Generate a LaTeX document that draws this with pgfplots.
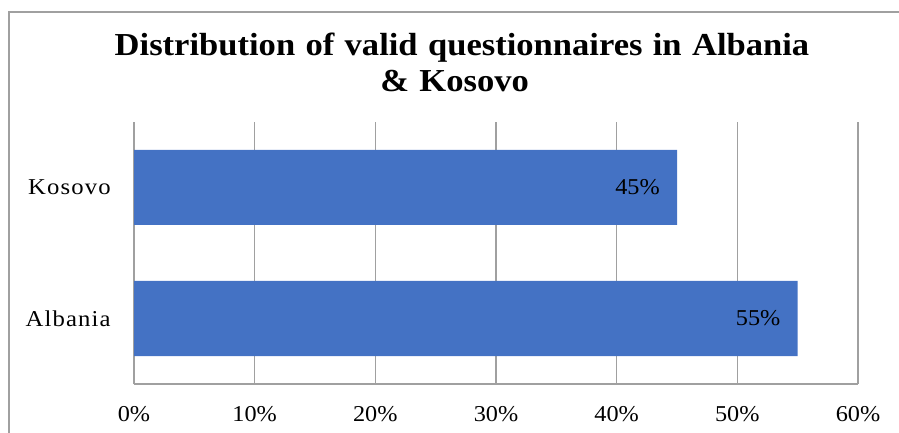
\documentclass[border=0pt]{standalone}
\usepackage{pgfplots}
\pgfplotsset{compat=1.18}
\usepackage{fontspec}
\setmainfont{Liberation Serif}[FakeStretch=1.07]
\newfontfamily\ylabfont{Liberation Serif}[FakeStretch=1.09, LetterSpace=5]
\newfontfamily\titlefont{Liberation Serif}[FakeStretch=1.08, WordSpace=1.2]
\definecolor{barblue}{HTML}{4472C4}
\definecolor{gridgray}{HTML}{A0A0A0}
\begin{document}
\begin{tikzpicture}
\useasboundingbox (0,0) rectangle (674.25pt,324pt);
\clip (0,0) rectangle (674.25pt,324pt);
\draw[gridgray, line width=0.9pt] (6.75pt,-20pt) -- (6.75pt,315pt) -- (720pt,315pt);
\node[anchor=base, font=\titlefont\fontsize{24}{27}\selectfont\bfseries] at (346.5pt,282pt) {Distribution of valid questionnaires in Albania};
\node[anchor=base, font=\titlefont\fontsize{24}{27}\selectfont\bfseries] at (341pt,255pt) {\& Kosovo};
\begin{axis}[
  at={(100.5pt,36pt)}, anchor=south west,
  scale only axis, width=543pt, height=196.5pt,
  xbar, bar width=56.25pt,
  xmin=0, xmax=60, ymin=-0.5, ymax=1.5,
  xtick={0,10,20,30,40,50,60},
  xticklabels={0\%,10\%,20\%,30\%,40\%,50\%,60\%},
  ytick={0,1}, yticklabels={Albania,Kosovo},
  tick label style={font=\fontsize{17}{20}\selectfont},
  xticklabel style={yshift=-13pt},
  yticklabel style={xshift=-14pt, font=\ylabfont\fontsize{17}{20}\selectfont},
  major tick length=0pt,
  xmajorgrids, grid style={gridgray, line width=0.9pt},
  axis x line*=bottom, axis y line*=left,
  axis line style={gridgray, line width=0.9pt, -},
  /pgf/number format/assume math mode=true,
  nodes near coords={\pgfmathprintnumber{\pgfplotspointmeta}\%},
  nodes near coords style={anchor=east, inner sep=0pt, xshift=-12.75pt, font=\fontsize{17}{20}\selectfont, text=black},
  point meta=x,
]
\addplot[fill=barblue, draw=none] coordinates {(55,0) (45,1)};
\end{axis}
\end{tikzpicture}
\end{document}
